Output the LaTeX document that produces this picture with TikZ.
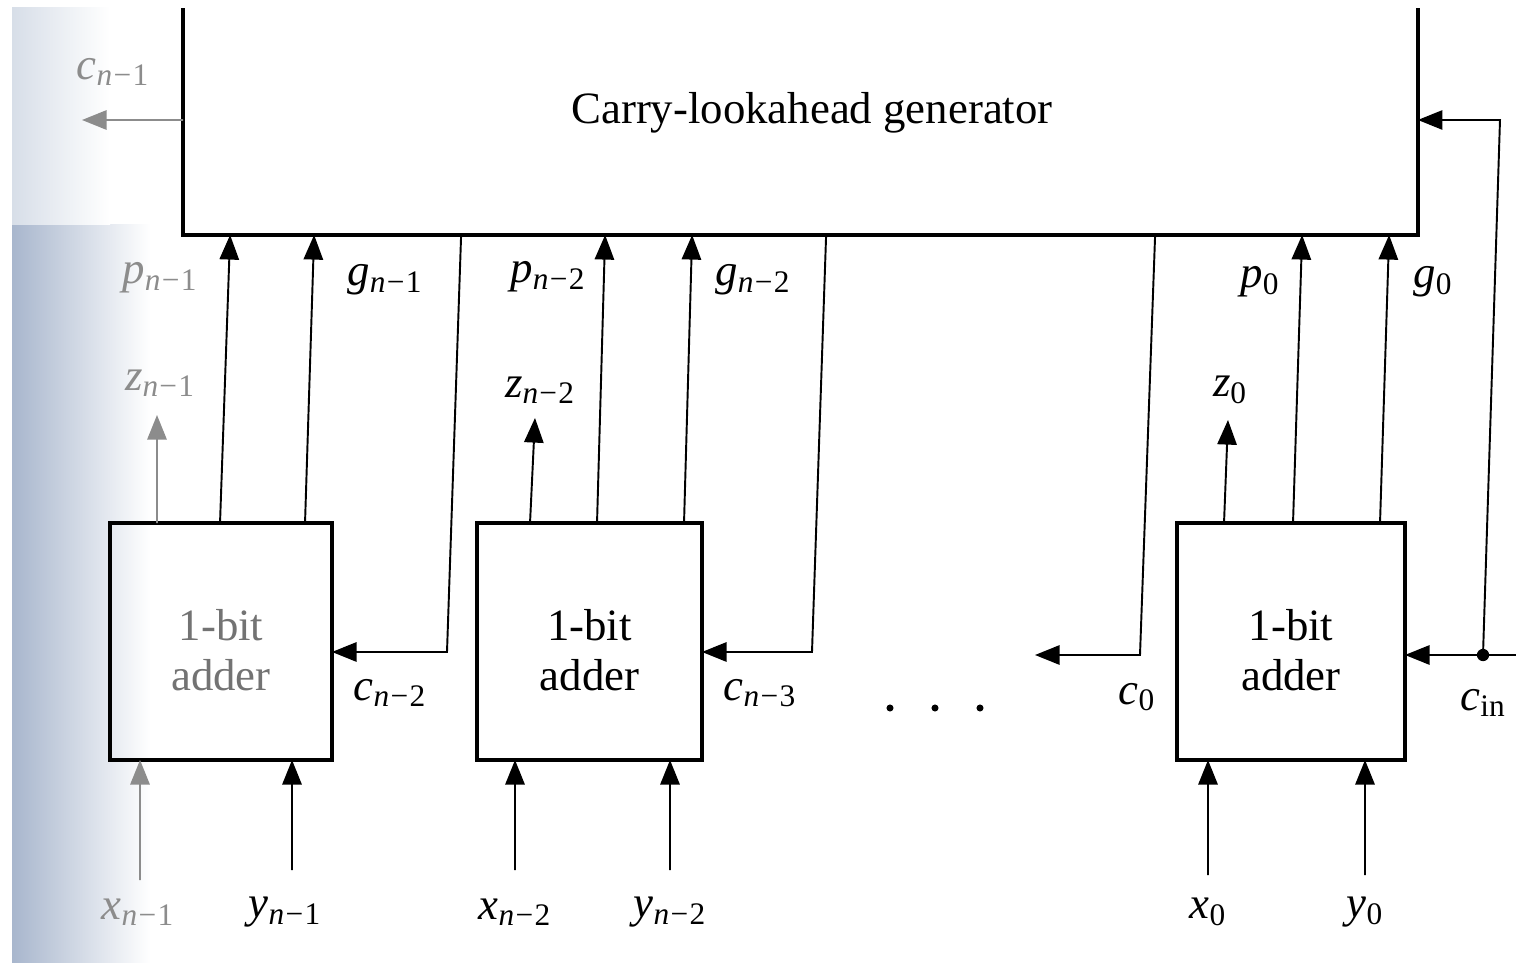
\documentclass[tikz,border=0pt]{standalone}
\usepackage{fontspec}
\setmainfont{Liberation Serif}
\usetikzlibrary{arrows.meta,calc}
\newcommand{\sg}[2]{\textit{#1}\textsubscript{#2}}
\newcommand{\nm}[1]{\textit{n}\kern0.04em−\kern0.04em#1}
\begin{document}
\begin{tikzpicture}[x=0.02cm,y=-0.02cm,
  every node/.style={font=\fontsize{25.5}{28.5}\selectfont},
  frame/.style={line width=2.2pt, line join=miter},
  adderbox/.style={draw, line width=2.2pt, minimum height=4.74cm, inner sep=0pt, outer sep=0pt, align=center},
  wire/.style={line width=1.1pt},
  arr/.style={wire,-{Triangle[length=14pt,width=11pt]}},
  faint/.style={black!45},
  lbl/.style={inner sep=0pt},
  dotn/.style={circle, fill, inner sep=0pt, minimum size=4pt}]
\useasboundingbox (0,0) rectangle (1516,963);
% scan shading at the left edge
\shade[left color={rgb,255:red,168;green,182;blue,205}, right color=white] (12,225) rectangle (150,963);
\shade[left color={rgb,255:red,215;green,222;blue,232}, right color=white] (12,8) rectangle (110,225);

% carry-lookahead generator (top cut off)
\node[minimum width=24.7cm, minimum height=4.54cm, inner sep=0pt, outer sep=0pt] (cla) at (800.5,121.5) {};
\draw[frame] (cla.north west) -- (cla.south west) -- (cla.south east) -- (cla.north east);
\node (clat) at (812,113) {Carry-lookahead generator};

% adders
\node[adderbox, minimum width=4.44cm, label={[align=center, text=black!55, yshift=-0.18cm]center:{1-bit\\adder}}] (a1) at (221,641.5) {};
\node[adderbox, minimum width=4.5cm, label={[align=center, yshift=-0.18cm]center:{1-bit\\adder}}] (a2) at (589.5,641.5) {};
\node[adderbox, minimum width=4.56cm, label={[align=center, yshift=-0.18cm]center:{1-bit\\adder}}] (a3) at (1291,641.5) {};

% free ends and bends
\coordinate (cn1e) at (82,120);
\coordinate (z1e) at (157,415);
\coordinate (z2e) at (535,418);
\coordinate (z0e) at (1228,420);
\coordinate (k1) at (447,652);
\coordinate (k2) at (812,652);
\coordinate (k3) at (1140,655);
\coordinate (c0e) at (1035,655);
\coordinate (cinsrc) at (1516,655);
\coordinate (cbend) at (1500,120);
\coordinate (xs1) at (140,880);
\coordinate (ys1) at (292,870);
\coordinate (xs2) at (515,870);
\coordinate (ys2) at (670,870);
\coordinate (xs0) at (1208,875);
\coordinate (ys0) at (1365,875);
\node[dotn, minimum size=7pt] (cdot) at (1483,655) {};

% carry out
\draw[arr, faint] ($(cla.south west)+(0,-115)$) -- (cn1e);

% stage n-1
\draw[arr, faint] ($(a1.north west)+(47,0)$) -- (z1e);
\draw[arr] ($(a1.north west)+(110,0)$) -- ($(cla.south west)+(47,0)$);
\draw[arr] ($(a1.north west)+(195,0)$) -- ($(cla.south west)+(131,0)$);
\draw[arr] ($(cla.south west)+(278,0)$) -- (k1) -- ($(a1.south east)+(0,-108)$);

% stage n-2
\draw[arr] ($(a2.north west)+(53,0)$) -- (z2e);
\draw[arr] ($(a2.north west)+(120,0)$) -- ($(cla.south west)+(422,0)$);
\draw[arr] ($(a2.north west)+(207,0)$) -- ($(cla.south west)+(509,0)$);
\draw[arr] ($(cla.south west)+(643,0)$) -- (k2) -- ($(a2.south east)+(0,-108)$);

% c0
\draw[arr] ($(cla.south west)+(972,0)$) -- (k3) -- (c0e);

% stage 0
\draw[arr] ($(a3.north west)+(47,0)$) -- (z0e);
\draw[arr] ($(a3.north west)+(116,0)$) -- ($(cla.south west)+(1119,0)$);
\draw[arr] ($(a3.north west)+(203,0)$) -- ($(cla.south west)+(1206,0)$);

% carry in
\draw[wire] (cinsrc) -- (cdot.center);
\draw[arr] (cdot.center) -- ($(a3.south east)+(0,-105)$);
\draw[arr] (cdot.center) -- (cbend) -- ($(cla.south east)+(0,-115)$);

% operand inputs
\draw[arr, faint] (xs1) -- ($(a1.south west)+(30,0)$);
\draw[arr] (ys1) -- ($(a1.south west)+(182,0)$);
\draw[arr] (xs2) -- ($(a2.south west)+(38,0)$);
\draw[arr] (ys2) -- ($(a2.south west)+(193,0)$);
\draw[arr] (xs0) -- ($(a3.south west)+(31,0)$);
\draw[arr] (ys0) -- ($(a3.south west)+(188,0)$);

% dots
\node[dotn] (d1) at (890,708) {};
\node[dotn] (d2) at (935,708) {};
\node[dotn] (d3) at (980,708) {};

% labels
\node[lbl, faint] (lcn1) at (113,72) {\sg{c}{\nm{1}}};
\node[lbl, faint] (lp1) at (160,278) {\sg{p}{\nm{1}}};
\node[lbl] (lg1) at (385,280) {\sg{g}{\nm{1}}};
\node[lbl, faint] (lz1) at (160,383) {\sg{z}{\nm{1}}};
\node[lbl] (lp2) at (548,277) {\sg{p}{\nm{2}}};
\node[lbl] (lg2) at (753,280) {\sg{g}{\nm{2}}};
\node[lbl] (lz2) at (540,390) {\sg{z}{\nm{2}}};
\node[lbl] (lp0) at (1260,282) {\sg{p}{0}};
\node[lbl] (lg0) at (1433,282) {\sg{g}{0}};
\node[lbl] (lz0) at (1230,390) {\sg{z}{0}};
\node[lbl] (lcn2) at (390,693) {\sg{c}{\nm{2}}};
\node[lbl] (lcn3) at (760,693) {\sg{c}{\nm{3}}};
\node[lbl] (lc0) at (1137,697) {\sg{c}{0}};
\node[lbl] (lcin) at (1483,703) {\sg{c}{in}};
\node[lbl, faint] (lx1) at (138,912) {\sg{x}{\nm{1}}};
\node[lbl] (ly1) at (285,912) {\sg{y}{\nm{1}}};
\node[lbl] (lx2) at (515,912) {\sg{x}{\nm{2}}};
\node[lbl] (ly2) at (670,912) {\sg{y}{\nm{2}}};
\node[lbl] (lx0) at (1208,912) {\sg{x}{0}};
\node[lbl] (ly0) at (1365,912) {\sg{y}{0}};
\end{tikzpicture}
\end{document}
